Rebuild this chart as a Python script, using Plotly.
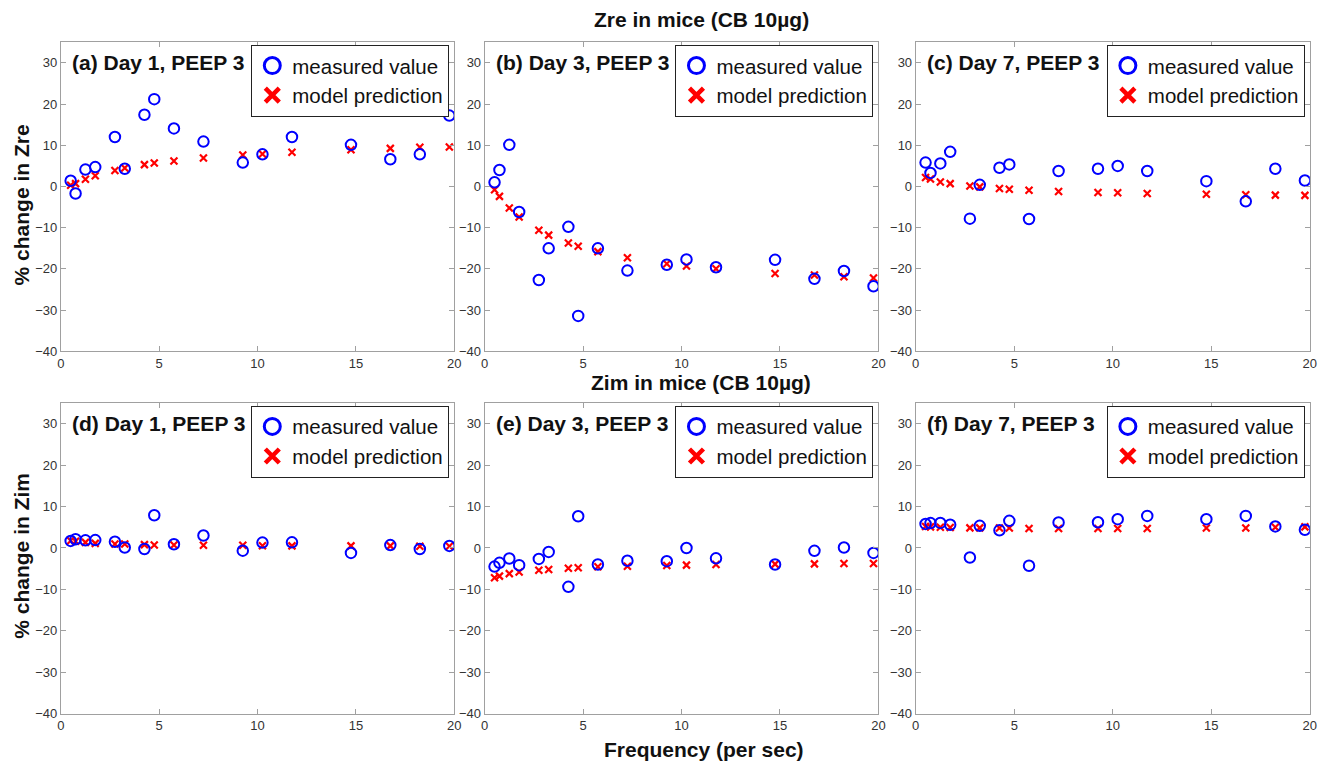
import plotly.graph_objects as go

# ---------------- data ----------------
freq = [0.5, 0.75, 1.25, 1.75, 2.75, 3.25, 4.25, 4.75, 5.75, 7.25,
        9.25, 10.25, 11.75, 14.75, 16.75, 18.25, 19.75]

zre_day1_meas = [1.4, -1.7, 4.1, 4.7, 12.0, 4.3, 17.4, 21.2, 14.1, 10.9,
                 5.8, 7.8, 12.0, 10.1, 6.6, 7.8, 17.2]
zre_day1_model = [0.3, 0.7, 1.75, 2.6, 3.9, 4.5, 5.3, 5.7, 6.2, 6.9,
                  7.65, 7.9, 8.3, 8.9, 9.25, 9.5, 9.6]

zre_day3_meas = [1.0, 4.0, 10.1, -6.2, -22.7, -15.0, -9.8, -31.4, -15.0, -20.4,
                 -19.0, -17.7, -19.6, -17.8, -22.4, -20.5, -24.2]
zre_day3_model = [-0.8, -2.4, -5.2, -7.4, -10.6, -11.8, -13.7, -14.5, -15.8, -17.3,
                  -18.75, -19.3, -19.95, -21.1, -21.5, -21.9, -22.2]

zre_day7_meas = [5.8, 3.3, 5.6, 8.4, -7.8, 0.4, 4.55, 5.35, -7.9, 3.75,
                 4.3, 5.0, 3.75, 1.3, -3.6, 4.3, 1.45]
zre_day7_model = [2.2, 1.8, 1.1, 0.7, 0.1, -0.1, -0.5, -0.65, -0.9, -1.2,
                  -1.45, -1.5, -1.7, -1.9, -2.0, -2.1, -2.15]

zim_day1_meas = [1.7, 2.1, 1.85, 1.9, 1.5, 0.1, -0.25, 7.9, 0.9, 3.0,
                 -0.65, 1.3, 1.35, -1.2, 0.7, -0.25, 0.5]
zim_day1_model = [1.75, 1.6, 1.35, 1.1, 0.95, 0.95, 0.8, 0.7, 0.7, 0.65,
                  0.65, 0.55, 0.5, 0.5, 0.5, 0.4, 0.4]

zim_day3_meas = [-4.5, -3.6, -2.55, -4.15, -2.65, -0.95, -9.4, 7.65, -4.0, -3.1,
                 -3.2, 0.0, -2.5, -4.0, -0.7, 0.1, -1.2]
zim_day3_model = [-7.2, -6.8, -6.2, -5.8, -5.4, -5.2, -4.9, -4.8, -4.55, -4.4,
                  -4.25, -4.15, -4.0, -3.9, -3.85, -3.75, -3.75]

zim_day7_meas = [5.8, 6.0, 6.05, 5.6, -2.3, 5.35, 4.25, 6.55, -4.3, 6.15,
                 6.2, 6.95, 7.75, 6.95, 7.75, 5.2, 4.4]
zim_day7_model = [5.2, 5.1, 5.0, 4.95, 4.85, 4.85, 4.8, 4.8, 4.7, 4.7,
                  4.7, 4.7, 4.7, 4.8, 4.8, 5.0, 5.1]

panel_labels = ["(a) Day 1, PEEP 3", "(b) Day 3, PEEP 3", "(c) Day 7, PEEP 3",
                "(d) Day 1, PEEP 3", "(e) Day 3, PEEP 3", "(f) Day 7, PEEP 3"]
row_titles = ["Zre in mice (CB 10µg)", "Zim in mice (CB 10µg)"]
y_titles = ["% change in Zre", "% change in Zim"]
x_title = "Frequency (per sec)"
legend_names = ["measured value", "model prediction"]
x_ticks = [0, 5, 10, 15, 20]
y_ticks = [-40, -30, -20, -10, 0, 10, 20, 30]

# ---------------- layout geometry ----------------
W, H = 1332, 772
FONT = "Liberation Sans, Arial, sans-serif"
col_px = [(57.3, 454.0), (484.7, 881.7), (919.3, 1316.7)]
row_px = [(42.7, 355.0), (407.3, 721.0)]

meas = [zre_day1_meas, zre_day3_meas, zre_day7_meas,
        zim_day1_meas, zim_day3_meas, zim_day7_meas]
model = [zre_day1_model, zre_day3_model, zre_day7_model,
         zim_day1_model, zim_day3_model, zim_day7_model]

BLUE = "#0000ff"
RED = "#ff0000"
AX = "#a0a0a0"

fig = go.Figure()
layout = dict(
    width=W, height=H,
    margin=dict(l=0, r=0, t=0, b=0),
    paper_bgcolor="white", plot_bgcolor="white",
    font=dict(family=FONT, color="#000"),
    showlegend=True,
)
annotations = []

for i in range(6):
    r, c = divmod(i, 3)
    n = "" if i == 0 else str(i + 1)
    xa, ya = "x" + n, "y" + n
    x0, x1 = col_px[c]
    y0, y1 = row_px[r]
    axcommon = dict(showline=True, mirror="ticks", linecolor=AX, linewidth=1,
                    ticks="inside", ticklen=5, tickcolor=AX, showgrid=False,
                    zeroline=False, tickfont=dict(family=FONT, size=13, color="#333"))
    layout["xaxis" + n] = dict(domain=[x0 / W, x1 / W], range=[0, 20],
                               tickvals=x_ticks, anchor=ya, **axcommon)
    layout["yaxis" + n] = dict(domain=[1 - y1 / H, 1 - y0 / H], range=[-40, 35],
                               tickvals=y_ticks, anchor=xa, **axcommon)

    lg = "legend" + ("" if i == 0 else str(i + 1))
    layout[lg] = dict(x=(x1 - 5) / W, xanchor="right", y=1 - (y0 + 2.5) / H,
                      yanchor="top", bgcolor="white", bordercolor="#222",
                      borderwidth=1, font=dict(family=FONT, size=20.5, color="#111"),
                      tracegroupgap=0, itemwidth=30)

    fig.add_trace(go.Scatter(x=freq, y=model[i], mode="markers", xaxis=xa, yaxis=ya,
                             showlegend=False,
                             marker=dict(symbol="x-thin-open", size=7, color=RED,
                                         line=dict(width=2.2, color=RED))))
    fig.add_trace(go.Scatter(x=freq, y=meas[i], mode="markers", xaxis=xa, yaxis=ya,
                             showlegend=False,
                             marker=dict(symbol="circle-open", size=10.5, color=BLUE,
                                         line=dict(width=2, color=BLUE))))
    # legend entries
    fig.add_trace(go.Scatter(x=[None], y=[None], mode="markers", xaxis=xa, yaxis=ya,
                             name=legend_names[0], legend=lg,
                             marker=dict(symbol="circle-open", size=16, color=BLUE,
                                         line=dict(width=3, color=BLUE))))
    fig.add_trace(go.Scatter(x=[None], y=[None], mode="markers", xaxis=xa, yaxis=ya,
                             name=legend_names[1], legend=lg,
                             marker=dict(symbol="x-thin-open", size=14, color=RED,
                                         line=dict(width=4.5, color=RED))))

    annotations.append(dict(text="<b>" + panel_labels[i] + "</b>", xref=xa + " domain",
                            yref=ya + " domain", x=0.024, y=1 - 20.5 / (y1 - y0),
                            xanchor="left", yanchor="middle", showarrow=False,
                            font=dict(family=FONT, size=21, color="#111")))

# row titles
annotations.append(dict(text="<b>" + row_titles[0] + "</b>", xref="paper", yref="paper",
                        x=703 / W, y=1 - 20 / H, showarrow=False, xanchor="center",
                        yanchor="middle", font=dict(family=FONT, size=21, color="#111")))
annotations.append(dict(text="<b>" + row_titles[1] + "</b>", xref="paper", yref="paper",
                        x=703 / W, y=1 - 387 / H, showarrow=False, xanchor="center",
                        yanchor="middle", font=dict(family=FONT, size=21, color="#111")))
annotations.append(dict(text="<b>" + x_title + "</b>", xref="paper", yref="paper",
                        x=706 / W, y=1 - 757 / H, showarrow=False, xanchor="center",
                        yanchor="middle", font=dict(family=FONT, size=21, color="#111")))
for r, yc in enumerate([206.7, 561.7]):
    annotations.append(dict(text="<b>" + y_titles[r] + "</b>", xref="paper", yref="paper",
                            x=18 / W, y=1 - yc / H, showarrow=False, textangle=-90,
                            xanchor="center", yanchor="middle",
                            font=dict(family=FONT, size=21, color="#111")))

layout["annotations"] = annotations
fig.update_layout(**layout)
fig.write_html("out.html")
